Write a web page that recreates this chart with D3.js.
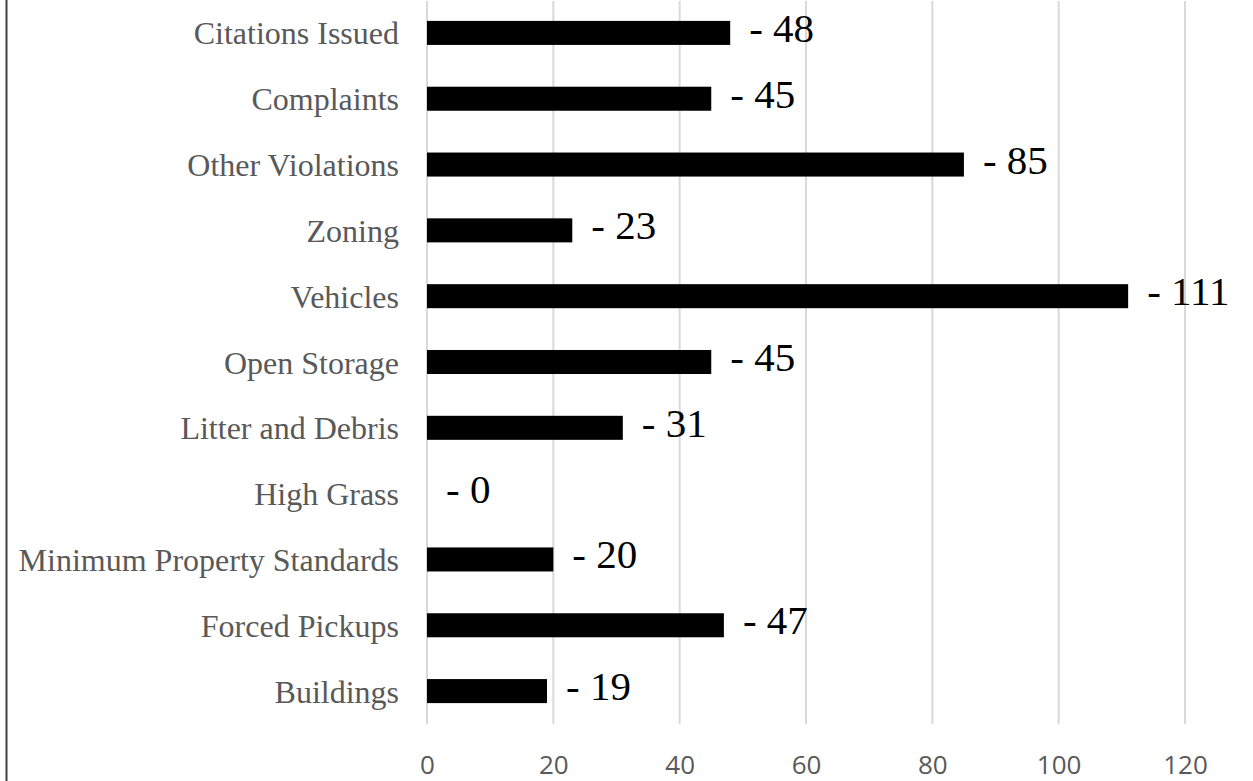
<!DOCTYPE html>
<html><head><meta charset="utf-8">
<script src="https://cdn.jsdelivr.net/npm/d3@7"></script>
<style>html,body{margin:0;padding:0;background:#fff;}svg{display:block;}</style>
</head><body>
<svg id="chart" width="1253" height="781"></svg>
<script>
const categories = ["Citations Issued","Complaints","Other Violations","Zoning","Vehicles","Open Storage","Litter and Debris","High Grass","Minimum Property Standards","Forced Pickups","Buildings"];
const values = [48,45,85,23,111,45,31,0,20,47,19];
const ticks = [0,20,40,60,80,100,120];

const svg = d3.select("#chart");
const W = 1253, H = 781;
const plotLeft = 427, plotRight = 1185, plotTop = 0, plotBottom = 724;

svg.append("rect").attr("width",W).attr("height",H).attr("fill","#fff");

const x = d3.scaleLinear().domain([0,120]).range([plotLeft,plotRight]);
const y = d3.scaleBand().domain(categories).range([plotTop,plotBottom]).paddingInner(0.635).paddingOuter(0.3175);

// gridlines
svg.append("g").selectAll("line").data(ticks).join("line")
  .attr("x1",d=>x(d)).attr("x2",d=>x(d)).attr("y1",1).attr("y2",plotBottom)
  .attr("stroke","#d9d9d9").attr("stroke-width",2);

// x axis tick labels
const xAxis = d3.axisBottom(x).tickValues(ticks).tickSize(0).tickPadding(0);
const gx = svg.append("g").attr("transform",`translate(0,${plotBottom})`).call(xAxis);
gx.select(".domain").remove();
gx.selectAll("text").attr("y",null).attr("dy",null).attr("transform","translate(0,50)")
  .attr("font-family","'Open Sans', sans-serif").attr("font-size",26).attr("fill","#595959");

// y axis labels
const yAxis = d3.axisLeft(y).tickSize(0).tickPadding(0);
const gy = svg.append("g").attr("transform",`translate(399,0)`).call(yAxis);
gy.select(".domain").remove();
gy.selectAll("text").attr("dy",null).attr("x",0).attr("transform","translate(0,11.5)")
  .attr("font-family","'Liberation Serif', 'Times New Roman', serif").attr("font-size",32).attr("fill","#595959");

// bars
svg.append("g").selectAll("rect").data(values).join("rect")
  .attr("x",x(0)).attr("y",(d,i)=>y(categories[i]))
  .attr("width",d=>x(d)-x(0)).attr("height",y.bandwidth())
  .attr("fill","#000");

// value labels
svg.append("g").selectAll("text").data(values).join("text")
  .attr("x",d=>x(d)+19).attr("y",(d,i)=>y(categories[i])+y.bandwidth()/2+9)
  .attr("font-family","'Liberation Serif', 'Times New Roman', serif").attr("font-size",41).attr("fill","#000")
  .text(d=>"- "+d);

// left border
svg.append("line").attr("x1",6.5).attr("x2",6.5).attr("y1",0).attr("y2",H)
  .attr("stroke","#404040").attr("stroke-width",2);
</script>
</body></html>
